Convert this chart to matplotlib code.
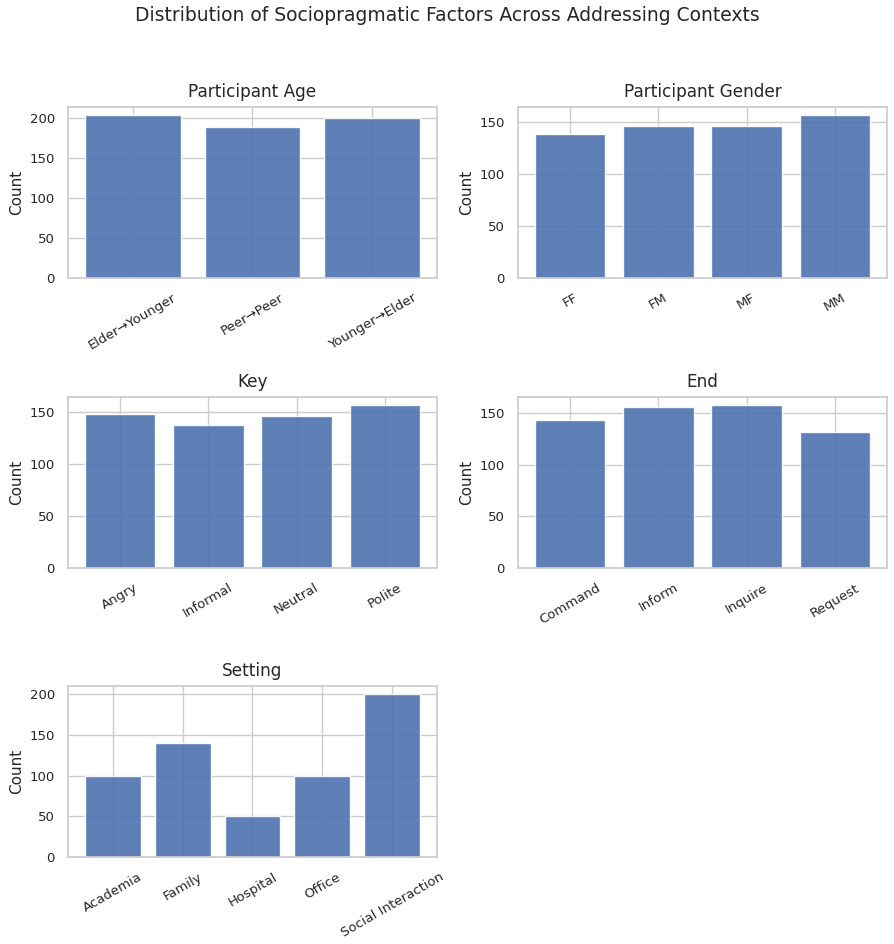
import matplotlib
matplotlib.use("Agg")
import matplotlib.pyplot as plt
import seaborn as sns

sns.set_theme(style="whitegrid")

# data
age_labels = ["Elder→Younger", "Peer→Peer", "Younger→Elder"]
age_counts = [203, 188, 199]

gender_labels = ["FF", "FM", "MF", "MM"]
gender_counts = [139, 147, 147, 157]

key_labels = ["Angry", "Informal", "Neutral", "Polite"]
key_counts = [148, 138, 147, 157]

end_labels = ["Command", "Inform", "Inquire", "Request"]
end_counts = [144, 156, 158, 132]

setting_labels = ["Academia", "Family", "Hospital", "Office", "Social Interaction"]
setting_counts = [100, 140, 50, 100, 200]

W, H = 894, 944
fig = plt.figure(figsize=(W / 100, H / 100), dpi=100)

def box(left, top, right, bottom):
    # pixel box -> figure fraction
    return [left / W, 1 - bottom / H, (right - left) / W, (bottom - top) / H]

panels = [
    ("Participant Age", age_labels, age_counts, box(68, 107, 437, 278)),
    ("Participant Gender", gender_labels, gender_counts, box(518, 107, 887, 278)),
    ("Key", key_labels, key_counts, box(68, 397, 437, 568)),
    ("End", end_labels, end_counts, box(518, 397, 887, 568)),
    ("Setting", setting_labels, setting_counts, box(68, 686, 437, 857)),
]

for title, labels, counts, pos in panels:
    ax = fig.add_axes(pos)
    ax.bar(labels, counts, color="#4C72B0", alpha=0.9)
    ax.set_title(title, fontsize=12.2, pad=7.5)
    ax.set_ylabel("Count", fontsize=11)
    ax.tick_params(axis="y", labelsize=9.5)
    ax.tick_params(axis="x", labelsize=9.5, rotation=30)

fig.suptitle("Distribution of Sociopragmatic Factors Across Addressing Contexts",
             fontsize=13.5, y=0.994)

fig.savefig("out.png", dpi=100)
